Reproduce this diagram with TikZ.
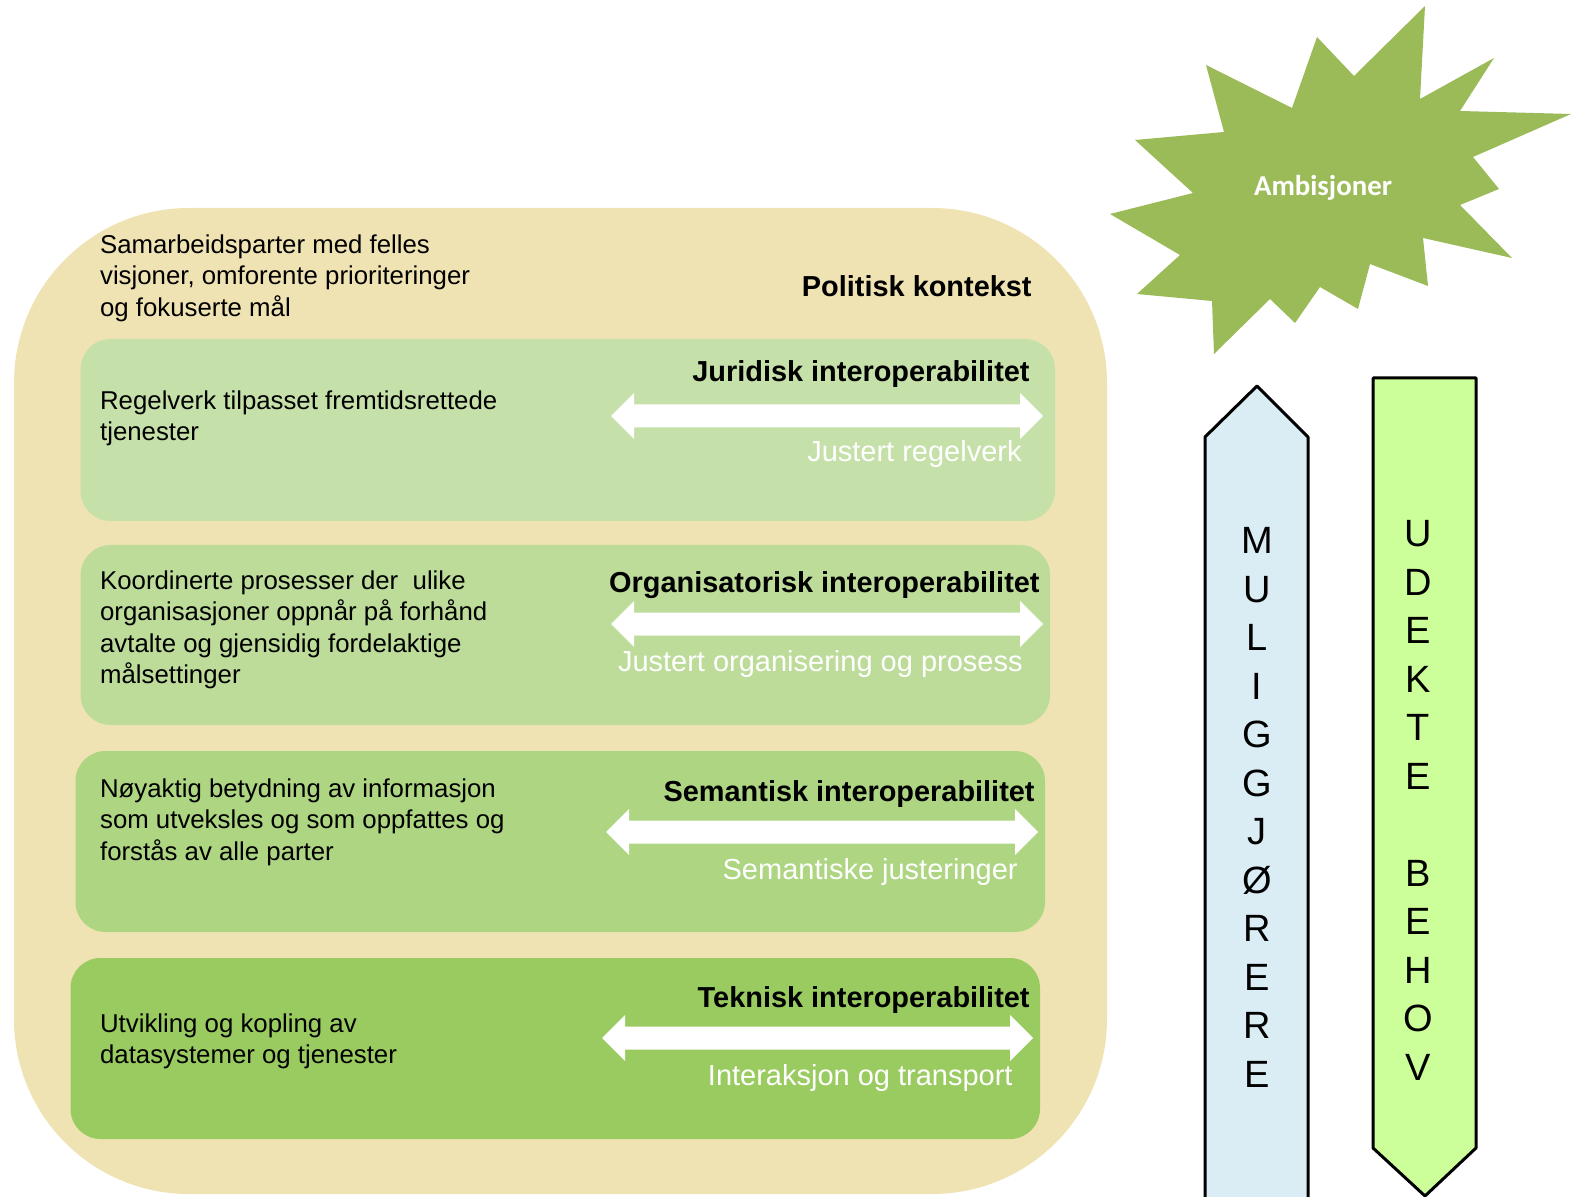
\documentclass[tikz,border=0pt]{standalone}
\usepackage{fontspec}
\setmainfont{Liberation Sans}
\newfontfamily\calib{Carlito}
\definecolor{beige}{HTML}{F0E3B3}
\definecolor{boxa}{HTML}{C6E0A9}
\definecolor{boxb}{HTML}{BDDC9A}
\definecolor{boxc}{HTML}{AED581}
\definecolor{boxd}{HTML}{9ACB61}
\definecolor{stargreen}{HTML}{9BBB59}
\definecolor{upblue}{HTML}{DAEDF4}
\definecolor{downgreen}{HTML}{CCFF99}
\tikzset{
  layerbox/.style={rounded corners=15pt},
  bodytext/.style={anchor=north west, inner sep=0pt, align=left, font=\fontsize{12.9}{15.75}\selectfont},
  headtext/.style={anchor=base east, inner sep=0pt, font=\fontsize{14.45}{16}\selectfont\bfseries},
  subtext/.style={anchor=base east, inner sep=0pt, text=white, font=\fontsize{14.5}{16}\selectfont},
  letter/.style={inner sep=0pt, font=\fontsize{19}{20}\selectfont},
  bigarrow/.style={line width=1.5pt, line join=round, draw=black},
}
\begin{document}
\begin{tikzpicture}[x=0.5pt,y=-0.5pt]
\clip (0,0) rectangle (1579,1197);
\fill[white] (0,0) rectangle (1579,1197);
% big context box
\fill[beige, rounded corners=87.5pt] (14,208) rectangle (1107,1194);
% layer boxes
\fill[boxa, layerbox] (80.6,339) rectangle (1055,521);
\fill[boxb, layerbox] (80.6,545) rectangle (1050,725);
\fill[boxc, layerbox] (75.5,751) rectangle (1045,932);
\fill[boxd, layerbox] (70.5,958) rectangle (1040,1139);
% double arrows
\foreach \xa/\xb/\yc in {611/1043/416, 611/1043/624, 606/1038/832, 602/1033/1038} {
  \fill[white] (\xa,\yc) -- (\xa+23,\yc-23) -- (\xa+23,\yc-11.5) -- (\xb-23,\yc-11.5) -- (\xb-23,\yc-23) -- (\xb,\yc) -- (\xb-23,\yc+23) -- (\xb-23,\yc+11.5) -- (\xa+23,\yc+11.5) -- (\xa+23,\yc+23) -- cycle;
}
% texts
\node[bodytext] (t0) at (99.7,234) {Samarbeidsparter med felles\\visjoner, omforente prioriteringer\\og fokuserte mål};
\node[headtext] (h0) at (1032,297) {Politisk kontekst};
\node[bodytext] (t1) at (99.7,390) {Regelverk tilpasset fremtidsrettede\\tjenester};
\node[headtext] (h1) at (1030,382) {Juridisk interoperabilitet};
\node[subtext] (s1) at (1022,462) {Justert regelverk};
\node[bodytext] (t2) at (99.7,570) {Koordinerte prosesser der\ \ ulike\\organisasjoner oppnår på forhånd\\avtalte og gjensidig fordelaktige\\målsettinger};
\node[headtext] (h2) at (1040,593) {Organisatorisk interoperabilitet};
\node[subtext] (s2) at (1023,671) {Justert organisering og prosess};
\node[bodytext] (t3) at (99.7,778) {Nøyaktig betydning av informasjon\\som utveksles og som oppfattes og\\forstås av alle parter};
\node[headtext] (h3) at (1035,801) {Semantisk interoperabilitet};
\node[subtext] (s3) at (1018,879) {Semantiske justeringer};
\node[bodytext] (t4) at (99.7,1013) {Utvikling og kopling av\\datasystemer og tjenester};
\node[headtext] (h4) at (1030,1007) {Teknisk interoperabilitet};
\node[subtext] (s4) at (1013,1085) {Interaksjon og transport};
% star
\fill[stargreen] (1425,6) -- (1420,99) -- (1494,58) -- (1460,111) -- (1571,114) -- (1473,157) -- (1499,189) -- (1460,205) -- (1512,258) -- (1423,238) -- (1428,286) -- (1370,264) -- (1358,309) -- (1320,287) -- (1295,323) -- (1270,299) -- (1214,354) -- (1212,301) -- (1137,294) -- (1180,255) -- (1110,214) -- (1193,193) -- (1135,140) -- (1224,132) -- (1206,65) -- (1292,108) -- (1317,37) -- (1354,76) -- cycle;
\node[text=white, font=\calib\bfseries\fontsize{14.4}{16}\selectfont] (amb) at (1323,188) {Ambisjoner};
% vertical arrows
\filldraw[bigarrow, fill=upblue] (1205,1215) -- (1205,437) -- (1257,386) -- (1308,437) -- (1308,1215) -- cycle;
\filldraw[bigarrow, fill=downgreen] (1373,378) -- (1476,378) -- (1476,1148) -- (1425,1196) -- (1373,1148) -- cycle;
\foreach \l [count=\i from 0] in {M,U,L,I,G,G,J,Ø,R,E,R,E} {
  \node[letter] (m\i) at (1257,540.8+48.5*\i) {\l};
}
\foreach \l [count=\i from 0] in {U,D,E,K,T,E,{},B,E,H,O,V} {
  \node[letter] (u\i) at (1418,533.7+48.5*\i) {\l};
}
\end{tikzpicture}
\end{document}
